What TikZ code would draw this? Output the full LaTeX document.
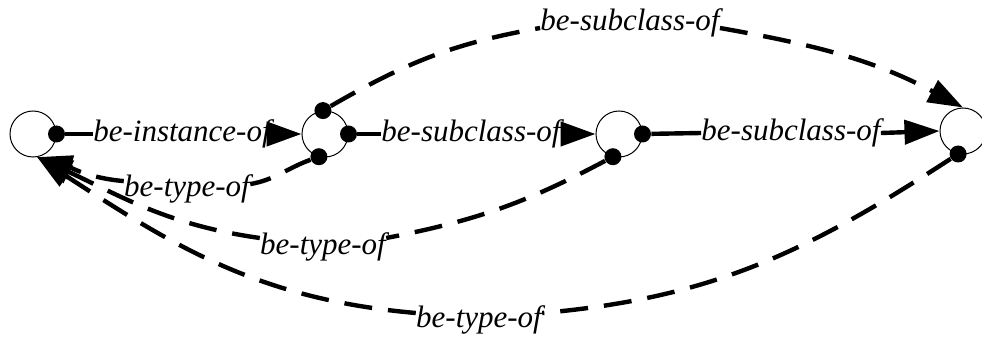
\documentclass[tikz,border=0pt]{standalone}
\usepackage{fontspec}
\setmainfont{Liberation Serif}
\newfontfamily\ontofont{Liberation Serif}
\usetikzlibrary{arrows.meta}
\tikzset{
    ontonode/.style={draw, circle, line width=0.5pt, minimum size=23pt, inner sep=0pt},
    ontodot/.style={circle, fill=black, minimum size=8.5pt, inner sep=0pt},
    ontolabel/.style={inner sep=0pt, font=\ontofont\fontsize{15.5}{18}\selectfont\itshape},
    ontohead/.style={-{Triangle[length=17.5pt,width=12pt]}},
    ontoline/.style={draw, line width=2.2pt},
    ontoarrow/.style={ontoline, ontohead},
    ontodashed/.style={draw, line width=2.2pt, dash pattern=on 14pt off 8pt}
}

\begin{document}
\begin{tikzpicture}[x=0.5pt, y=0.5pt]
    \useasboundingbox (0,0) rectangle (982,338);

    % concepts
    \node[ontonode] (obj) at (33,204) {};
    \node[ontonode] (cls) at (325,204) {};
    \node[ontonode] (supcls) at (619,204) {};
    \node[ontonode] (topcls) at (963,207) {};

    % ports
    \node[ontodot] (obj-r) at (obj.east) {};
    \node[ontodot] (cls-t) at (cls.95) {};
    \node[ontodot] (cls-r) at (cls.east) {};
    \node[ontodot] (cls-b) at (cls.-105) {};
    \node[ontodot] (supcls-r) at (supcls.east) {};
    \node[ontodot] (supcls-b) at (supcls.-105) {};
    \node[ontodot] (topcls-b) at (topcls.-102) {};

    % relation names
    \node[ontolabel] (l-inst) at (182,204) {be-instance-of};
    \node[ontolabel] (l-sub1) at (471,204) {be-subclass-of};
    \node[ontolabel] (l-sub2) at (791,205) {be-subclass-of};
    \node[ontolabel] (l-subtop) at (630,315) {be-subclass-of};
    \node[ontolabel] (l-type1) at (187,149.5) {be-type-of};
    \node[ontolabel] (l-type2) at (323,91) {be-type-of};
    \node[ontolabel] (l-type3) at (479,18) {be-type-of};

    % straight relations
    \draw[ontoline] (obj-r) -- (l-inst.west);
    \draw[ontoarrow] (l-inst.east) -- (cls.west);
    \draw[ontoline] (cls-r) -- (l-sub1.west);
    \draw[ontoarrow] (l-sub1.east) -- (supcls.west);
    \draw[ontoline] (supcls-r) -- (l-sub2.west);
    \draw[ontoarrow] (l-sub2.east) -- (topcls.west);

    % dashed relations
    \draw[ontodashed] (cls-t) to[out=30,in=190] ([yshift=-2.5pt]l-subtop.west);
    \draw[ontodashed, ontohead] ([yshift=-2.5pt]l-subtop.east) to[out=-10,in=152] (topcls.north);
    \draw[ontodashed] (cls-b) to[out=200,in=10] ([yshift=2.2pt]l-type1.east);
    \draw[ontodashed, ontohead] ([yshift=3.7pt]l-type1.west) to[out=175,in=-17] (obj.-80);
    \draw[ontodashed] (supcls-b) to[out=208,in=11] ([yshift=4.5pt]l-type2.east);
    \draw[ontodashed, ontohead] ([yshift=4.5pt]l-type2.west) to[out=172,in=-25] (obj.-80);
    \draw[ontodashed] (topcls-b) to[out=213,in=5] ([yshift=3.5pt]l-type3.east);
    \draw[ontodashed, ontohead] ([yshift=3.5pt]l-type3.west) to[out=175,in=-33] (obj.-80);
\end{tikzpicture}
\end{document}
